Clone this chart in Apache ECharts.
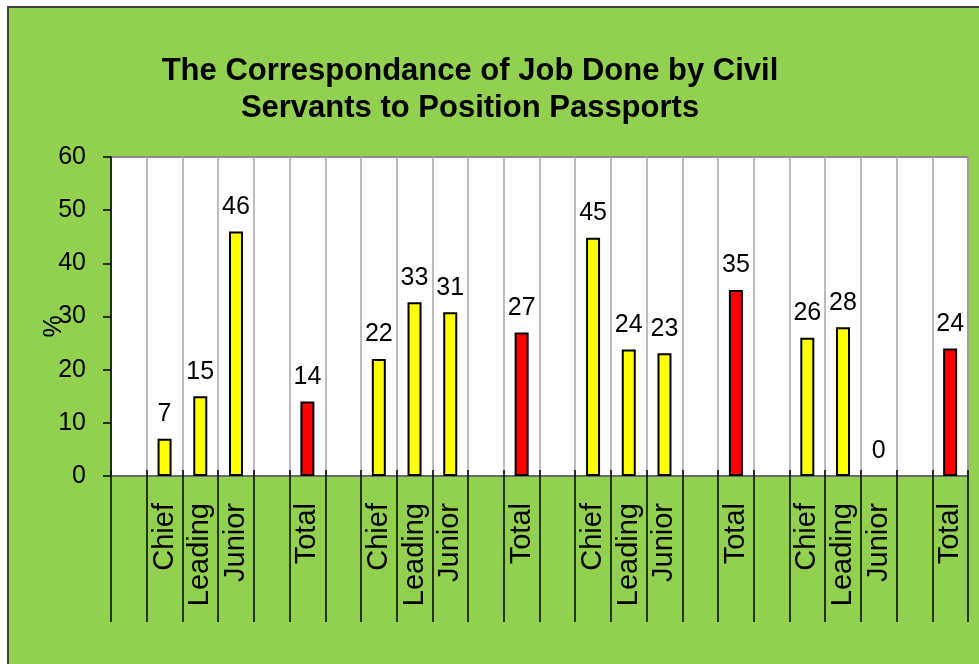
<!DOCTYPE html>
<html>
<head>
<meta charset="utf-8">
<script src="https://cdn.jsdelivr.net/npm/echarts@6/dist/echarts.min.js"></script>
<style>
html,body{margin:0;padding:0;background:#fff;}
#c{width:979px;height:664px;}
</style>
</head>
<body>
<div id="c"></div>
<script>
var titleText = 'The Correspondance of Job Done by Civil\nServants to Position Passports';
var categories = ['', 'Chief', 'Leading', 'Junior', '', 'Total', '', 'Chief', 'Leading', 'Junior', '', 'Total', '', 'Chief', 'Leading', 'Junior', '', 'Total', '', 'Chief', 'Leading', 'Junior', '', 'Total'];
var values = [null, 7, 15, 46, null, 14, null, 22, 32.7, 30.8, null, 27, null, 44.8, 23.8, 23.1, null, 35, null, 26, 28, 0, null, 24];
var yTicks = [0, 10, 20, 30, 40, 50, 60];
var yName = '%';

var FONT = 'Liberation Sans, Arial, sans-serif';
var chart = echarts.init(document.getElementById('c'));

var seriesData = values.map(function (v, i) {
  return {
    value: v,
    itemStyle: {
      color: categories[i] === 'Total' ? '#FF0000' : '#FFFF00',
      borderWidth: v === 0 ? 0 : 2
    }
  };
});

chart.setOption({
  backgroundColor: '#ffffff',
  animation: false,
  graphic: [{
    type: 'rect',
    z: -100,
    silent: true,
    shape: { x: 8, y: 7, width: 2000, height: 2000 },
    style: { fill: '#92D050', stroke: '#404040', lineWidth: 2 }
  }],
  title: {
    text: titleText,
    left: 465,
    top: 48,
    textAlign: 'center',
    textStyle: {
      fontFamily: FONT, fontSize: 31, fontWeight: 'bold', color: '#000', lineHeight: 37
    }
  },
  grid: {
    left: 111, right: 11, top: 157, bottom: 188,
    show: true, backgroundColor: '#ffffff', borderColor: '#8a8a8a', borderWidth: 2,
    containLabel: false
  },
  xAxis: [{
    type: 'category',
    data: categories,
    boundaryGap: true,
    axisLine: { show: true, lineStyle: { color: '#606060', width: 1.5 } },
    axisTick: { show: true, interval: 0, length: 146, lineStyle: { color: '#000', width: 1.5 } },
    axisLabel: {
      interval: 0, rotate: 90, margin: 27,
      fontFamily: FONT, fontSize: 29, color: '#000'
    },
    splitLine: { show: true, interval: 0, lineStyle: { color: '#a6a6a6', width: 1.5 } }
  }, {
    type: 'category',
    data: categories,
    position: 'bottom',
    boundaryGap: true,
    axisLine: { show: false },
    axisTick: { show: true, inside: true, interval: 0, length: 6, lineStyle: { color: '#000', width: 1.5 } },
    axisLabel: { show: false },
    splitLine: { show: false }
  }],
  yAxis: {
    type: 'value',
    min: yTicks[0], max: yTicks[yTicks.length - 1], interval: 10,
    name: yName,
    nameLocation: 'middle',
    nameRotate: 90,
    nameGap: 44,
    nameMoveOverlap: false,
    nameTextStyle: { fontFamily: FONT, fontSize: 25, color: '#000', padding: [0, 0, 0, -20] },
    axisLine: { show: true, lineStyle: { color: '#000', width: 1.5 } },
    axisTick: { show: true, length: 8, lineStyle: { color: '#000', width: 1.5 } },
    axisLabel: { margin: 25, fontFamily: FONT, fontSize: 25, color: '#000' },
    splitLine: { show: false }
  },
  series: [{
    type: 'bar',
    data: seriesData,
    barWidth: 14,
    itemStyle: { borderColor: '#000', borderWidth: 2 },
    label: {
      show: true, position: 'top', distance: 12,
      fontFamily: FONT, fontSize: 25, color: '#000',
      formatter: function (p) { return p.value == null ? '' : String(Math.round(p.value)); }
    }
  }]
});
</script>
</body>
</html>
